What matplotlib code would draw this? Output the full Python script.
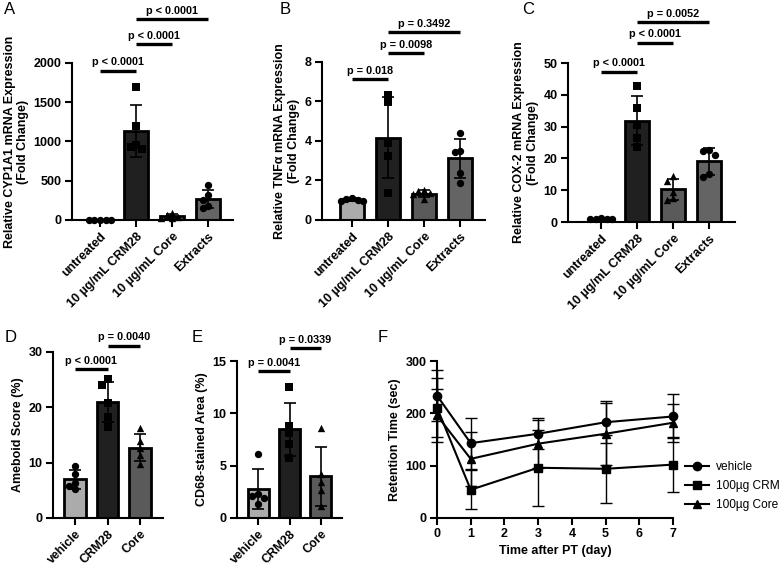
import numpy as np
import matplotlib
matplotlib.use('Agg')
import matplotlib.pyplot as plt
from matplotlib.lines import Line2D

plt.rcParams['font.family'] = ['Liberation Sans', 'DejaVu Sans']
plt.rcParams['font.weight'] = 'bold'
plt.rcParams['axes.labelweight'] = 'bold'

# ---- data ----
cell_groups = ['untreated', '10 µg/mL CRM28', '10 µg/mL Core', 'Extracts']
cyp1a1 = [[1, 1, 1, 1, 1], [1690, 1200, 960, 930, 910], [95, 60, 40, 25, 20], [440, 320, 250, 180, 150]]
tnfa = [[1.12, 1.08, 1.02, 0.98, 0.95], [6.35, 5.95, 3.9, 3.25, 1.35], [1.5, 1.45, 1.38, 1.3, 1.05], [4.4, 3.5, 3.45, 2.4, 1.85]]
cox2 = [[1.2, 1.1, 1.0, 0.9, 0.8], [42.8, 35.8, 30.5, 26.3, 23.7], [14.5, 13.0, 9.5, 7.5, 6.8], [22.6, 22.4, 21.0, 15.2, 14.0]]
p_cyp1a1 = [(0, 1, 1900, 'p < 0.0001'), (1, 2, 2240, 'p < 0.0001'), (1, 3, 2560, 'p < 0.0001')]
p_tnfa = [(0, 1, 7.14, 'p = 0.018'), (1, 2, 8.45, 'p = 0.0098'), (1, 3, 9.51, 'p = 0.3492')]
p_cox2 = [(0, 1, 47.2, 'p < 0.0001'), (1, 2, 56.3, 'p < 0.0001'), (1, 3, 62.9, 'p = 0.0052')]

mouse_groups = ['vehicle', 'CRM28', 'Core']
ameboid = [[9.4, 8.0, 6.4, 5.8, 5.2], [25.1, 24.1, 20.7, 18.3, 16.5], [16.2, 13.9, 12.6, 11.3, 9.7]]
cd68 = [[6.1, 2.3, 2.1, 1.9, 1.3], [12.55, 8.8, 8.1, 7.1, 5.75], [8.56, 4.25, 3.4, 2.65, 1.1]]
p_ameboid = [(0, 1, 26.9, 'p < 0.0001'), (1, 2, 31.1, 'p = 0.0040')]
p_cd68 = [(0, 1, 14.0, 'p = 0.0041'), (1, 2, 16.2, 'p = 0.0339')]

days = [0, 1, 3, 5, 7]
vehicle_rt = [234, 143, 161, 183, 194]
vehicle_sd = [48, 49, 30, 40, 42]
crm_rt = [211, 54, 96, 94, 102]
crm_sd = [57, 37, 73, 65, 52]
core_rt = [196, 113, 142, 161, 182]
core_sd = [50, 51, 46, 59, 36]

W, H = 783, 565
fig = plt.figure(figsize=(W / 100, H / 100), dpi=100)


def axes_px(l, t, r, b):
    return fig.add_axes([l / W, 1 - b / H, (r - l) / W, (b - t) / H])


def style(ax):
    for s in ['top', 'right']:
        ax.spines[s].set_visible(False)
    for s in ['left', 'bottom']:
        ax.spines[s].set_linewidth(1.5)
    ax.tick_params(direction='out', length=5, width=1.5, labelsize=9, pad=2.5)


def swarm_x(ax, x0, vals, d=7.0):
    # simple beeswarm in pixel space
    tr = ax.transData
    inv = tr.inverted()
    placed = []
    out = []
    step = d * 0.8
    for v in vals:
        bx, py = tr.transform((x0, v))
        cands = [0]
        for i in range(1, 10):
            cands += [-i, i]
        for c in cands:
            px = c * step
            if all((px - qx) ** 2 + (py - qy) ** 2 >= step ** 2 for qx, qy in placed):
                break
        placed.append((px, py))
        out.append(inv.transform((bx + px, py))[0])
    return out


def bar_panel(ax, groups, data, colors, markers, ylim, yticks, xlim, ylabel, brackets, xfs=9):
    style(ax)
    ax.set_xlim(*xlim)
    ax.set_ylim(*ylim)
    ax.set_yticks(yticks)
    x = np.arange(len(groups))
    means = [np.mean(d) for d in data]
    sds = [np.std(d, ddof=1) for d in data]
    ax.bar(x, means, width=0.67, color=colors, edgecolor='black', linewidth=2, zorder=1)
    ax.errorbar(x, means, yerr=sds, fmt='none', ecolor='black', elinewidth=1.2,
                capsize=4.5, capthick=1.2, zorder=2)
    for i, d in enumerate(data):
        xs = swarm_x(ax, i, d)
        ax.scatter(xs, d, s=28, marker=markers[i], color='black', zorder=3, clip_on=False, linewidths=0)
    ax.set_xticks(x)
    ax.set_xticklabels(groups, rotation=45, ha='right', rotation_mode='anchor', fontsize=xfs)
    ax.set_ylabel(ylabel, fontsize=9, labelpad=3)
    for i, j, y, lab in brackets:
        ax.plot([i, j], [y, y], color='black', lw=2.4, clip_on=False, solid_capstyle='butt')
        ax.annotate(lab, xy=((i + j) / 2, y), xytext=(0, 2.5), textcoords='offset points',
                    ha='center', va='bottom', fontsize=7.8, fontweight='bold', annotation_clip=False)


cell_colors = ['#ababab', '#202020', '#5a5a5a', '#646464']
cell_markers = ['o', 's', '^', 'o']
mouse_colors = ['#ababab', '#202020', '#5a5a5a']
mouse_markers = ['o', 's', '^']

axA = axes_px(72, 63, 233, 220)
bar_panel(axA, cell_groups, cyp1a1, cell_colors, cell_markers, (0, 2000), range(0, 2001, 500),
          (-0.78, 3.69), 'Relative CYP1A1 mRNA Expression\n(Fold Change)', p_cyp1a1)

axB = axes_px(322, 62, 485, 220)
bar_panel(axB, cell_groups, tnfa, cell_colors, cell_markers, (0, 8), range(0, 9, 2),
          (-0.83, 3.69), 'Relative TNFα mRNA Expression\n(Fold Change)', p_tnfa)

axC = axes_px(568, 63, 735, 222)
bar_panel(axC, cell_groups, cox2, cell_colors, cell_markers, (0, 50), range(0, 51, 10),
          (-0.92, 3.72), 'Relative COX-2 mRNA Expression\n(Fold Change)', p_cox2)

axD = axes_px(53, 352, 163, 518)
bar_panel(axD, mouse_groups, ameboid, mouse_colors, mouse_markers, (0, 30), range(0, 31, 10),
          (-0.68, 2.71), 'Ameboid Score (%)', p_ameboid, xfs=8.8)

axE = axes_px(237, 361, 342, 518)
bar_panel(axE, mouse_groups, cd68, mouse_colors, mouse_markers, (0, 15), range(0, 16, 5),
          (-0.67, 2.67), 'CD68-stained Area (%)', p_cd68, xfs=8.8)

# ---- panel F ----
axF = axes_px(437, 361, 673, 518)
style(axF)
series = [(vehicle_rt, vehicle_sd, 'o', 'vehicle'),
          (crm_rt, crm_sd, 's', '100µg CRM'),
          (core_rt, core_sd, '^', '100µg Core')]
handles = []
for vals, sd, m, lab in series:
    axF.errorbar(days, vals, yerr=sd, fmt='-', marker=m, color='black', lw=1.5, ms=6,
                 elinewidth=1, capsize=4, capthick=1, clip_on=False, zorder=3)
    handles.append(Line2D([], [], color='black', lw=1.5, marker=m, ms=6, label=lab))
axF.set_xlim(0, 7)
axF.set_ylim(0, 300)
axF.set_xticks(range(0, 8))
axF.set_yticks([0, 100, 200, 300])
axF.set_xlabel('Time after PT (day)', fontsize=9, labelpad=3)
axF.set_ylabel('Retention Time (sec)', fontsize=9, labelpad=3)

fig.legend(handles=handles, loc='center left', bbox_to_anchor=(685 / W, 1 - 486 / H),
           frameon=False, prop={'size': 8.6, 'weight': 'normal'}, handlelength=2.0,
           handletextpad=0.6, labelspacing=0.6, borderaxespad=0, borderpad=0)

# ---- panel letters ----
for lab, x, y in [('A', 4, 9), ('B', 280, 9), ('C', 522, 9), ('D', 5, 337), ('E', 192, 337), ('F', 378, 337)]:
    fig.text(x / W, 1 - y / H, lab, fontsize=12, fontweight='normal', va='center', ha='left')

fig.savefig('out.png', dpi=100)
